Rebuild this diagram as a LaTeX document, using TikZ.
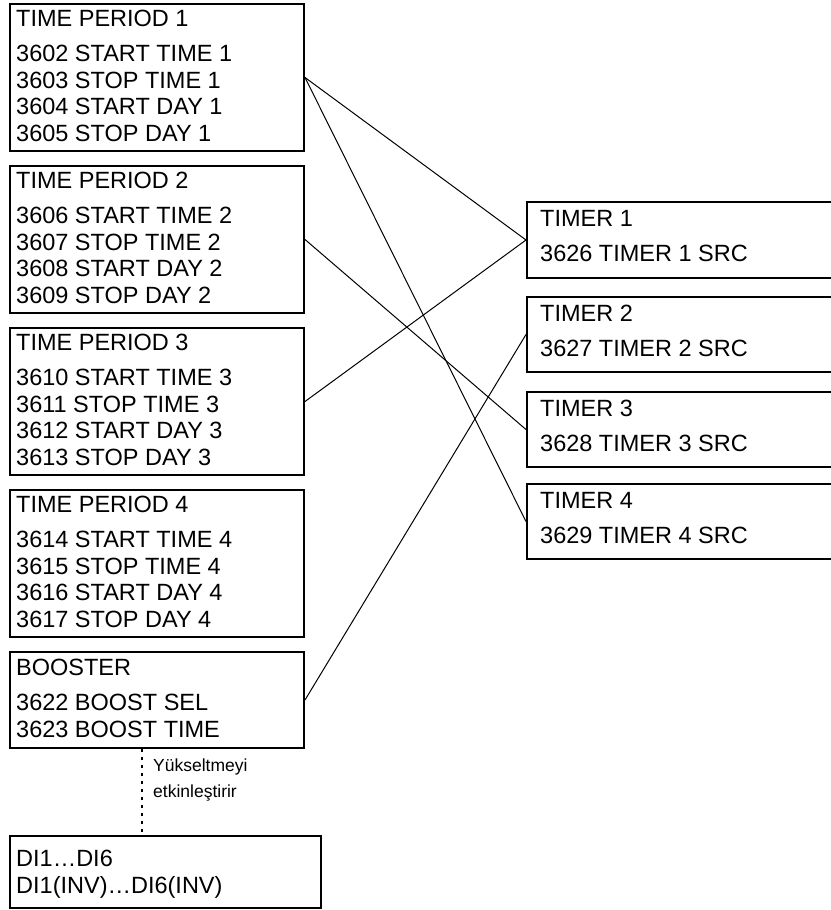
\documentclass[tikz,border=0pt]{standalone}
\usepackage{fontspec}
\setmainfont{Liberation Sans}
\usetikzlibrary{calc}
\newcommand{\mainsz}{\fontsize{23.5}{26.7}\selectfont}
\newcommand{\lblsz}{\fontsize{17.5}{24}\selectfont}
\tikzset{
  box/.style={draw, line width=2pt, inner sep=0pt, anchor=north west},
  tpbox/.style={box, minimum width=294pt, minimum height=147pt},
  tmbox/.style={box, minimum width=330pt, minimum height=75pt},
  txt/.style={anchor=base west, inner sep=0pt, font=\mainsz},
  lbl/.style={anchor=base west, inner sep=0pt, font=\lblsz},
  conn/.style={line width=1pt},
  dots/.style={line width=1.4pt, dash pattern=on 3pt off 5pt},
}
\begin{document}
\begin{tikzpicture}[x=1pt,y=-1pt]
\useasboundingbox (0,0) rectangle (830,910);
% time period boxes
\node[tpbox] (tp1) at (9,3) {};
\node[txt] (tp1t) at (16,26.4) {TIME PERIOD 1};
\node[txt] (tp1a) at (16,61.4) {3602 START TIME 1};
\node[txt] (tp1b) at (16,88.1) {3603 STOP TIME 1};
\node[txt] (tp1c) at (16,114.8) {3604 START DAY 1};
\node[txt] (tp1d) at (16,141.5) {3605 STOP DAY 1};

\node[tpbox] (tp2) at (9,165) {};
\node[txt] (tp2t) at (16,188.4) {TIME PERIOD 2};
\node[txt] (tp2a) at (16,223.4) {3606 START TIME 2};
\node[txt] (tp2b) at (16,250.1) {3607 STOP TIME 2};
\node[txt] (tp2c) at (16,276.8) {3608 START DAY 2};
\node[txt] (tp2d) at (16,303.5) {3609 STOP DAY 2};

\node[tpbox] (tp3) at (9,327) {};
\node[txt] (tp3t) at (16,350.4) {TIME PERIOD 3};
\node[txt] (tp3a) at (16,385.4) {3610 START TIME 3};
\node[txt] (tp3b) at (16,412.1) {3611 STOP TIME 3};
\node[txt] (tp3c) at (16,438.8) {3612 START DAY 3};
\node[txt] (tp3d) at (16,465.5) {3613 STOP DAY 3};

\node[tpbox] (tp4) at (9,489) {};
\node[txt] (tp4t) at (16,512.4) {TIME PERIOD 4};
\node[txt] (tp4a) at (16,547.4) {3614 START TIME 4};
\node[txt] (tp4b) at (16,574.1) {3615 STOP TIME 4};
\node[txt] (tp4c) at (16,600.8) {3616 START DAY 4};
\node[txt] (tp4d) at (16,627.5) {3617 STOP DAY 4};

\node[box, minimum width=294pt, minimum height=96pt] (boost) at (9,651) {};
\node[txt] (bt) at (16,675.4) {BOOSTER};
\node[txt] (ba) at (16,710.4) {3622 BOOST SEL};
\node[txt] (bb) at (16,737.1) {3623 BOOST TIME};

\node[box, minimum width=311pt, minimum height=72pt] (di) at (9,835) {};
\node[txt] (dia) at (16,866.4) {DI1…DI6};
\node[txt] (dib) at (16,893.1) {DI1(INV)…DI6(INV)};

% timer boxes
\node[tmbox, minimum height=76pt] (t1) at (526,201) {};
\node[txt] (t1t) at (540,226.4) {TIMER 1};
\node[txt] (t1a) at (540,261.4) {3626 TIMER 1 SRC};
\node[tmbox] (t2) at (526,296) {};
\node[txt] (t2t) at (540,321.4) {TIMER 2};
\node[txt] (t2a) at (540,356.4) {3627 TIMER 2 SRC};
\node[tmbox] (t3) at (526,391) {};
\node[txt] (t3t) at (540,416.4) {TIMER 3};
\node[txt] (t3a) at (540,451.4) {3628 TIMER 3 SRC};
\node[tmbox] (t4) at (526,483) {};
\node[txt] (t4t) at (540,508.4) {TIMER 4};
\node[txt] (t4a) at (540,543.4) {3629 TIMER 4 SRC};

% connectors
\draw[conn] (tp1.east) -- (t1.west);
\draw[conn] (tp1.east) -- (t4.west);
\draw[conn] (tp2.east) -- (t3.west);
\draw[conn] (tp3.east) -- (t1.west);
\draw[conn] (boost.east) -- (t2.west);

% dotted link
\draw[dots] ($(boost.south west)+(133,0)$) -- ($(di.north west)+(133,0)$);
\node[lbl] (lab1) at (153,771) {Yükseltmeyi};
\node[lbl] (lab2) at (153,797) {etkinleştirir};
\end{tikzpicture}
\end{document}
